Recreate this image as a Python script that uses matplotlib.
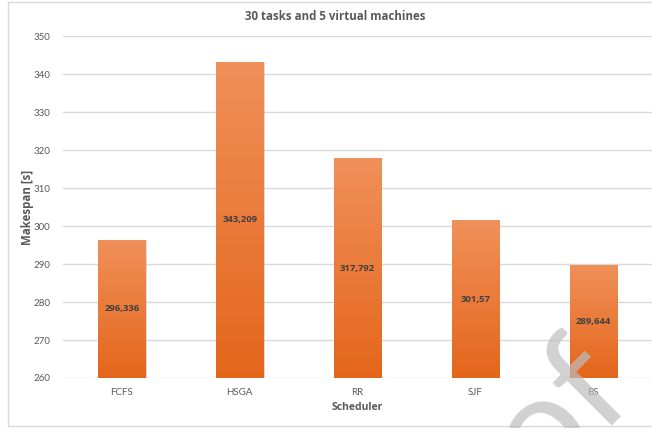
import matplotlib
matplotlib.use("Agg")
import matplotlib.pyplot as plt
import numpy as np
from matplotlib.patches import Rectangle

# Data
schedulers = ['FCFS', 'HSGA', 'RR', 'SJF', 'BS']
makespan = [296.336, 343.209, 317.792, 301.57, 289.644]
value_labels = ['296,336', '343,209', '317,792', '301,57', '289,644']

plt.rcParams['font.family'] = ['Lato', 'DejaVu Sans']
bold_font = ['Open Sans', 'DejaVu Sans']

fig = plt.figure(figsize=(6.52, 4.28), dpi=100)
ax = fig.add_axes([63 / 652, 1 - 378 / 428, 1 - 63 / 652, (378 - 36) / 428])

ymin, ymax = 260, 350
x = np.arange(len(schedulers))
bars = ax.bar(x, makespan, width=0.4, color='none', zorder=3)
ax.set_ylim(ymin, ymax)
ax.set_xlim(-0.5, len(schedulers) - 0.5)

# Gradient fill for each bar
grad = np.linspace(0, 1, 256).reshape(-1, 1)
cmap = matplotlib.colors.LinearSegmentedColormap.from_list('og', ['#E4661B', '#F0905A'])
for b in bars:
    x0 = b.get_x()
    w = b.get_width()
    top = b.get_height()
    # soft shadow
    ax.add_patch(Rectangle((x0 + 0.012, ymin), w, top - ymin - 0.3, color='#BBBBBB',
                           alpha=0.5, lw=0, zorder=2))
    im = ax.imshow(grad, extent=[x0, x0 + w, ymin, top], origin='lower', cmap=cmap,
                   aspect='auto', zorder=3)
    clip = Rectangle((x0, ymin), w, top - ymin, transform=ax.transData, fc='none', lw=0)
    ax.add_patch(clip)
    im.set_clip_path(clip)

ax.set_aspect('auto')

for xi, v, lab in zip(x, makespan, value_labels):
    ax.text(xi, (ymin + v) / 2, lab, ha='center', va='center', fontsize=6.8,
            family=bold_font, fontweight='bold', color='#404040', zorder=5)

ax.set_yticks(np.arange(260, 351, 10))
ax.set_xticks(x)
ax.set_xticklabels(schedulers)
ax.tick_params(axis='both', length=0, labelsize=7, colors='#595959', pad=9)
ax.tick_params(axis='x', pad=7)
ax.grid(axis='y', color='#D9D9D9', lw=1, zorder=0)
for s in ax.spines.values():
    s.set_visible(False)

fig.text(28 / 652, 1 - 207 / 428, 'Makespan [s]', rotation=90, ha='center', va='center',
         fontsize=8.3, family=bold_font, fontweight='bold', color='#595959')
fig.text(357 / 652, 1 - 408 / 428, 'Scheduler', ha='center', va='center',
         fontsize=7.5, family=bold_font, fontweight='bold', color='#595959')
fig.text(335 / 652, 1 - 16 / 428, '30 tasks and 5 virtual machines', ha='center', va='center',
         fontsize=8.3, family=bold_font, fontweight='bold', color='#595959')

# chart border
fig.patches.append(Rectangle((8 / 652, 2 / 428), 1.2, 1 - 4 / 428, transform=fig.transFigure,
                             fill=False, ec='#D9D9D9', lw=1))

# watermark
fig.text(634 / 652, 1 - 390 / 428, 'Proof', rotation=45, rotation_mode='anchor',
         ha='right', va='baseline', fontsize=105, color='#BDBDBD', alpha=0.7, zorder=10)

fig.savefig('out.png', dpi=100)
